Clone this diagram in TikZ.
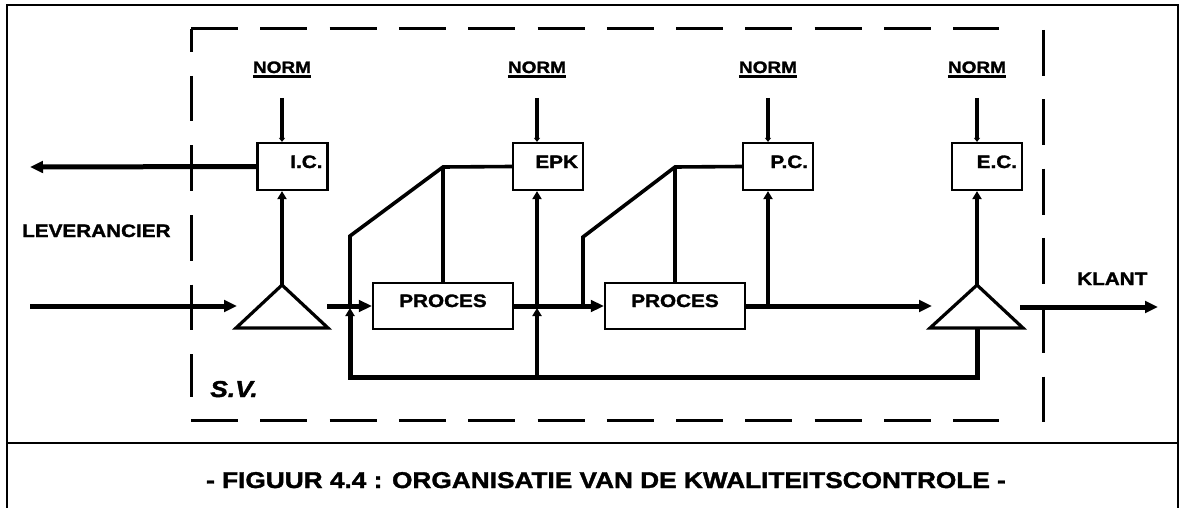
\documentclass[tikz,border=0pt]{standalone}
\usepackage{fontspec}
\newfontfamily\hv{Liberation Sans}[FakeStretch=1.15,BoldFeatures={FakeBold=1.6},BoldItalicFeatures={FakeBold=1.6}]
\usetikzlibrary{arrows.meta}
\newcommand\fLbl{\hv\bfseries\fontsize{18}{18}\selectfont}
\newcommand\fNorm{\hv\bfseries\fontsize{16.5}{16.5}\selectfont}
\newcommand\fCap{\hv\bfseries\fontsize{22.8}{22.8}\selectfont}
\newcommand\fSV{\hv\bfseries\itshape\fontsize{23}{23}\selectfont}
\begin{document}
\begin{tikzpicture}[x=1pt,y=-1pt,
  line join=miter,
  flow/.style={line width=5pt,-{Triangle[length=13pt,width=11.5pt]}},
  thickline/.style={line width=5pt},
  ctl/.style={line width=3.6pt},
  upar/.style={-{Triangle[length=8pt,width=9pt]}},
  tinyar/.style={-{Triangle[length=4pt,width=6pt]}},
  ctrlbox/.style={draw,line width=2.2pt,fill=white,minimum width=70pt,minimum height=47pt,
    inner xsep=5pt,inner ysep=0pt,text width=60pt,align=right,
    text height=13pt,text depth=10pt,font=\fLbl},
  procbox/.style={draw,line width=2.2pt,fill=white,minimum width=140pt,minimum height=46pt,
    inner sep=0pt,text height=14pt,text depth=12pt,font=\fLbl},
  normlbl/.style={inner sep=0pt,font=\fNorm,anchor=base},
  txt/.style={inner sep=0pt,font=\fLbl,anchor=base west},
  dashh/.style={line width=3pt,dash pattern=on 47pt off 22.3pt},
  dashv/.style={line width=3pt,dash pattern=on 45.5pt off 24pt},
  tri/.style={line width=3.2pt,line join=miter},
  frame/.style={line width=2.5pt}
]
\useasboundingbox (0,0) rectangle (1181,508);

% outer frame and divider
\draw[frame] (7,515) -- (7,5) -- (1178,5) -- (1178,515);
\draw[line width=2.2pt] (7,443) -- (1178,443);

% dashed system boundary
\draw[dashh] (191,29) -- (999,29);
\draw[dashv,dash phase=22.5pt] (191,29) -- (191,397);
\draw[dashh] (191,420) -- (999,420);
\draw[line width=3pt,dash pattern=on 46pt off 23.3pt] (1043,30) -- (1043,422);

% NORM labels
\node[normlbl] (n1) at (282,73) {NORM};
\node[normlbl] (n2) at (537,73) {NORM};
\node[normlbl] (n3) at (768,73) {NORM};
\node[normlbl] (n4) at (977,73) {NORM};
\foreach \n in {n1,n2,n3,n4}{
  \draw[line width=3pt] ([yshift=-4pt]\n.base west) -- ([yshift=-4pt]\n.base east);
}

% control boxes
\node[ctrlbox] (ic)  at (292.5,166.5) {I.C.};
\node[ctrlbox] (epk) at (548,166.5) {EPK};
\node[ctrlbox] (pc)  at (778,166.5) {P.C.};
\node[ctrlbox] (ec)  at (987,166.5) {E.C.};

% process boxes
\node[procbox] (p1) at (443,306) {PROCES};
\node[procbox] (p2) at (675,306) {PROCES};

% norm lines
\coordinate (c1) at (282,98);
\coordinate (c2) at (537,98);
\coordinate (c3) at (768,98);
\coordinate (c4) at (977,98);
\foreach \c/\b in {c1/ic,c2/epk,c3/pc,c4/ec}{
  \draw[ctl,tinyar] (\c) -- (\c |- \b.north);
}

% triangles
\coordinate (t1a) at (282,285);
\coordinate (t1l) at (236,328);
\coordinate (t1r) at (328,328);
\coordinate (t1b) at (282,328);
\draw[tri] (t1l) -- (t1a) -- (t1r) -- cycle;
\coordinate (t2a) at (977,285);
\coordinate (t2l) at (930,328);
\coordinate (t2r) at (1023,328);
\coordinate (t2b) at (977,328);
\draw[tri] (t2l) -- (t2a) -- (t2r) -- cycle;

% main flow
\coordinate (inS) at (30,306);
\coordinate (inE) at (237,306);
\coordinate (retE) at (30,167);
\coordinate (t1out) at (327,306);
\coordinate (p2out) at (932,306);
\coordinate (ecout) at (1020,307);
\coordinate (klant) at (1158,307);
\draw[flow] (inS) -- (inE);
\draw[flow] (ic.west) -- (retE);
\draw[flow] (t1out) -- (p1.west);
\draw[flow] (p1.east) -- (p2.west);
\draw[flow] (p2.east) -- (p2out);
\draw[flow] (ecout) -- (klant);

% checks up to control boxes
\draw[ctl,upar] (t1a) -- (t1a |- ic.south);
\draw[ctl,upar] (t2a) -- (t2a |- ec.south);

% feedback loop
\coordinate (lp1) at (350,377);
\coordinate (lp2) at (537,377);
\coordinate (m1) at (350,308);
\coordinate (m2) at (537,308);
\draw[thickline,upar] (t2b) -- (t2b |- lp1) -- (lp1) -- (m1);
\draw[line width=4.2pt,upar] (lp2) -- (m2);
\draw[line width=4.2pt,upar] (m2) -- (m2 |- epk.south);

% EPK steering lines
\coordinate (d1b) at (350,236);
\coordinate (d1t) at (443,167);
\draw[ctl] (350,306) -- (d1b) -- (d1t) -- (epk.west);
\draw[ctl] (d1t) -- (p1.north);

% P.C. steering lines
\coordinate (m3) at (583,306);
\coordinate (d2b) at (583,237);
\coordinate (d2t) at (675,167);
\draw[ctl] (m3) -- (d2b) -- (d2t) -- (pc.west);
\draw[ctl] (d2t) -- (p2.north);
\coordinate (m4) at (768,306);
\draw[ctl,upar] (m4) -- (m4 |- pc.south);

% texts
\node[txt] (lev) at (22,237) {LEVERANCIER};
\node[txt] (kl) at (1077,285) {KLANT};
\node[inner sep=0pt,font=\fSV,anchor=base west] (sv) at (210,397) {S.V.};
\node[inner sep=0pt,font=\fCap,anchor=base] (cap) at (606,488) {- FIGUUR 4.4 : ORGANISATIE VAN DE KWALITEITSCONTROLE -};
\end{tikzpicture}
\end{document}
